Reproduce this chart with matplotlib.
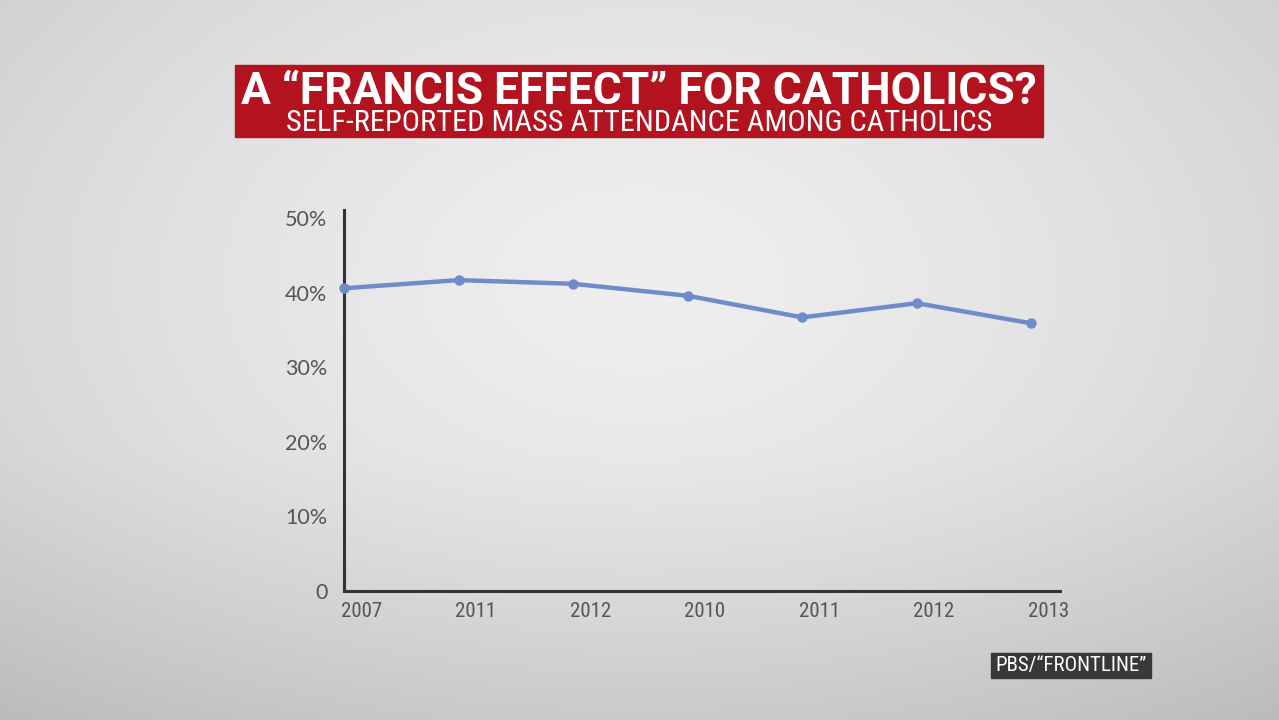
import numpy as np
import matplotlib
matplotlib.use("Agg")
import matplotlib.pyplot as plt
from matplotlib.patches import Rectangle
from matplotlib import font_manager as fm

# ---- data ----
years = ["2007", "2011", "2012", "2010", "2011", "2012", "2013"]
attendance = [40.6, 41.7, 41.2, 39.6, 36.7, 38.6, 35.9]
y_ticks = [0, 10, 20, 30, 40, 50]
y_tick_labels = ["0", "10%", "20%", "30%", "40%", "50%"]
title = "A \u201cFRANCIS EFFECT\u201d FOR CATHOLICS?"
subtitle = "SELF-REPORTED MASS ATTENDANCE AMONG CATHOLICS"
credit = "PBS/\u201cFRONTLINE\u201d"

# pick a condensed font if one is installed
names = {f.name for f in fm.fontManager.ttflist}
cond_family = "DejaVu Sans"
for cand in ["Roboto Condensed", "Liberation Sans Narrow", "Open Sans Condensed"]:
    if cand in names:
        cond_family = cand
        break
narrow = [cond_family, "DejaVu Sans"]
bold_family = ["Roboto", "DejaVu Sans"]

W, H = 1279, 720
fig = plt.figure(figsize=(W / 100, H / 100), dpi=100)

# background gradient
bg = fig.add_axes([0, 0, 1, 1], zorder=-10)
yy, xx = np.mgrid[0:H, 0:W]
d = np.sqrt(((xx - 640) / 800.0) ** 2 + ((yy - 280) / 520.0) ** 2)
val = 0.935 - 0.12 * d ** 1.5 - 0.05 * np.clip((yy - 450) / 270.0, 0, 1)
val = np.clip(val, 0.7, 0.95)
bg.imshow(np.dstack([val, val, val]), extent=[0, W, H, 0], aspect="auto")
bg.set_xlim(0, W)
bg.set_ylim(H, 0)
bg.axis("off")

def fx(px):
    return px / W

def fy(py):
    return 1 - py / H

# title banner
fig.patches.append(Rectangle((fx(235), fy(137)), fx(1043) - fx(235), fy(65) - fy(137),
                             transform=fig.transFigure, color="#b3121f", zorder=1))
t1 = fig.text(fx(639), fy(104), title, color="white", fontsize=30, fontweight="bold",
              family=bold_family, ha="center", va="baseline", zorder=2)
t2 = fig.text(fx(639), fy(131), subtitle, color="white", fontsize=18,
              family=narrow, ha="center", va="baseline", zorder=2)
# credit box
fig.patches.append(Rectangle((fx(991), fy(678)), fx(1151) - fx(991), fy(653) - fy(678),
                             transform=fig.transFigure, color="#383838", zorder=1))
t3 = fig.text(fx(1071), fy(666), credit, color="white", fontsize=12,
              family=narrow, ha="center", va="center", zorder=2)

fig.canvas.draw()
r = fig.canvas.get_renderer()
for t, target in [(t1, 796), (t2, 705), (t3, 150)]:
    w = t.get_window_extent(r).width
    t.set_fontsize(t.get_fontsize() * target / w)

# main axes
left, right, top, bottom = 344, 1060, 210, 591
ax = fig.add_axes([fx(left), fy(bottom), fx(right) - fx(left), fy(top) - fy(bottom)])
ax.patch.set_alpha(0)
x = np.arange(len(years))
ax.plot(x, attendance, color="#6f8bc9", lw=3.2, marker="o", ms=7.5,
        markeredgewidth=0, solid_capstyle="round", clip_on=False, zorder=3)
ax.set_xlim(0, 6.25)
ax.set_ylim(0, 51.1)
for s in ["top", "right"]:
    ax.spines[s].set_visible(False)
for s in ["left", "bottom"]:
    ax.spines[s].set_color("#333333")
    ax.spines[s].set_linewidth(2.2)
ax.set_yticks(y_ticks)
ax.set_yticklabels(y_tick_labels, family=["Lato", "DejaVu Sans"], fontsize=15.5, color="#555555")
ax.set_xticks(x + 0.15)
ax.set_xticklabels(years, family=narrow, fontsize=15, color="#555555")
ax.tick_params(axis="both", length=0)
ax.tick_params(axis="y", pad=12)
ax.tick_params(axis="x", pad=8)

fig.savefig("out.png", dpi=100)
